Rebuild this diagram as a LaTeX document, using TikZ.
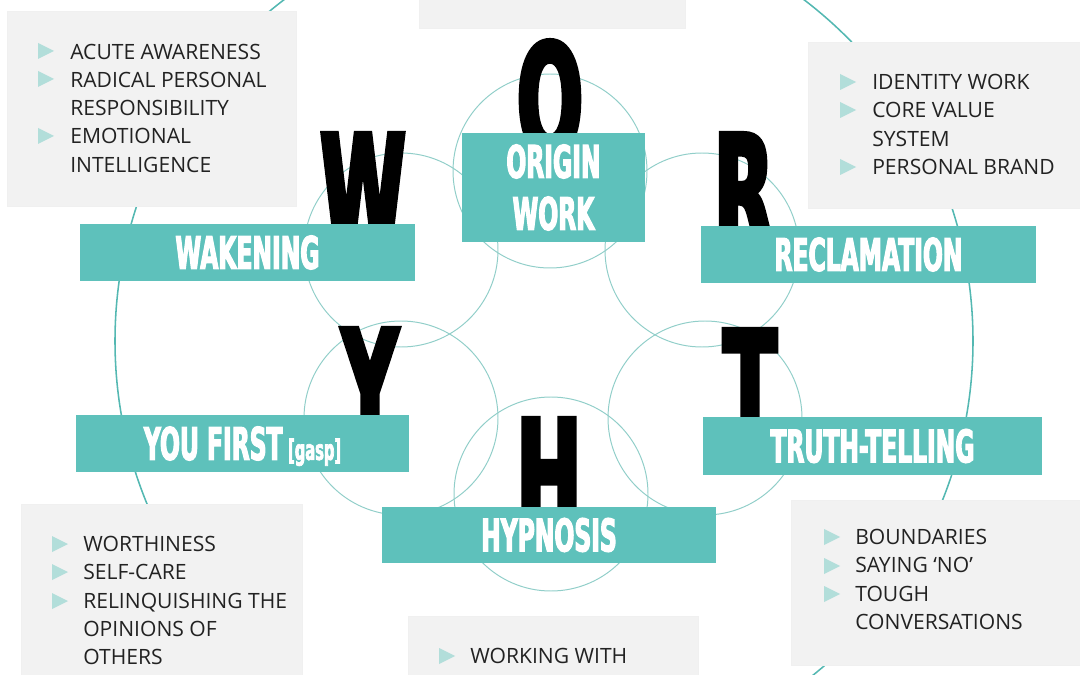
\documentclass[tikz,border=0pt]{standalone}
\usepackage{fontspec}
\setmainfont{Open Sans}
\newfontfamily\barfont[FakeStretch=0.52,FakeBold=2.5]{DejaVu Sans Bold}
\newfontfamily\letterfont[FakeStretch=0.5,FakeBold=3]{DejaVu Sans Bold}
\usetikzlibrary{positioning}
\definecolor{barteal}{RGB}{94,193,187}
\definecolor{ringteal}{RGB}{84,184,178}
\definecolor{petalteal}{RGB}{145,206,201}
\definecolor{bulletteal}{RGB}{178,222,218}
\definecolor{panelgray}{RGB}{242,242,242}
\definecolor{textgray}{RGB}{34,34,34}
\tikzstyle{bar}=[fill=barteal,text=white,inner sep=0pt,align=center,font=\barfont\fontsize{32}{37}\selectfont]
\tikzstyle{panel}=[fill=panelgray,draw=black!6,line width=0.4pt]
\tikzstyle{letter}=[inner sep=0pt,anchor=north,font=\letterfont\fontsize{110}{110}\selectfont]
\tikzstyle{listtext}=[inner sep=0pt,anchor=north west,align=left,text=textgray,font=\fontsize{15}{20.1}\selectfont]
\tikzstyle{petal}=[draw=petalteal,line width=0.7pt]

\begin{document}
\begin{tikzpicture}[x=0.025cm,y=-0.025cm]
\useasboundingbox (0,0) rectangle (1080,675);
\clip (0,0) rectangle (1080,675);
% outer ring and petals
\draw[ringteal,line width=1.1pt] (544,341) circle[radius=429];
\foreach \cx/\cy in {550/171,401/250,702/250,401/418,705/418,551/494}
  \draw[petal] (\cx,\cy) circle[radius=97];
% grey panels
\node[panel,minimum width=7.225cm,minimum height=4.875cm] (awarepanel) at (151.5,108.5) {};
\node[panel,minimum width=6.65cm,minimum height=1.2cm] (originpanel) at (552,4) {};
\node[panel,minimum width=7.05cm,minimum height=4.15cm] (identitypanel) at (949,125) {};
\node[panel,minimum width=7.025cm,minimum height=4.65cm] (worthpanel) at (161.5,597) {};
\node[panel,minimum width=7.25cm,minimum height=1.85cm] (hypnopanel) at (553,653) {};
\node[panel,minimum width=7.475cm,minimum height=4.125cm] (truthpanel) at (940.5,582.5) {};
% bullets
\foreach \bx/\by in {38/51,38/79,38/136,840/82,840/110,840/167,52/544,52/572,52/601,824/537,824/566,824/594,439/656}
  \fill[bulletteal] (\bx,\by-8) -- ++(16,8) -- ++(-16,8) -- cycle;
% lists
\node[listtext] (awaretext) at (70,43.5) {ACUTE AWARENESS\\RADICAL PERSONAL\\RESPONSIBILITY\\EMOTIONAL\\INTELLIGENCE};
\node[listtext] (identitytext) at (872,74) {IDENTITY WORK\\CORE VALUE\\SYSTEM\\PERSONAL BRAND};
\node[listtext] (worthtext) at (83,536) {WORTHINESS\\SELF-CARE\\RELINQUISHING THE\\OPINIONS OF\\OTHERS};
\node[listtext] (truthtext) at (855,529) {BOUNDARIES\\SAYING ‘NO’\\TOUGH\\CONVERSATIONS};
\node[listtext] (hypnotext) at (470,648) {WORKING WITH};
% big letters
\node[letter] (W) at (363,133) {W};
\node[letter] (O) at (550,40) {O};
\node[letter] (R) at (744,133) {R};
\node[letter] (T) at (750,329) {T};
\node[letter] (Y) at (370,328) {Y};
\node[letter] (H) at (549,418) {H};
% bars
\node[bar,minimum width=8.375cm,minimum height=1.425cm] (wakening) at (247.5,252.5) {WAKENING};
\node[bar,minimum width=4.575cm,minimum height=2.725cm] (origin) at (553.5,187.5) {ORIGIN\\WORK};
\node[bar,minimum width=8.375cm,minimum height=1.425cm] (reclamation) at (868.5,254.5) {RECLAMATION};
\node[bar,minimum width=8.325cm,minimum height=1.425cm] (youfirst) at (242.5,443.5) {YOU FIRST\hspace{4pt}\smash{\fontsize{20}{20}\selectfont[gasp]}};
\node[bar,minimum width=8.475cm,minimum height=1.45cm] (truth) at (872.5,446) {TRUTH-TELLING};
\node[bar,minimum width=8.35cm,minimum height=1.4cm] (hypnosis) at (549,535) {HYPNOSIS};
\end{tikzpicture}
\end{document}
